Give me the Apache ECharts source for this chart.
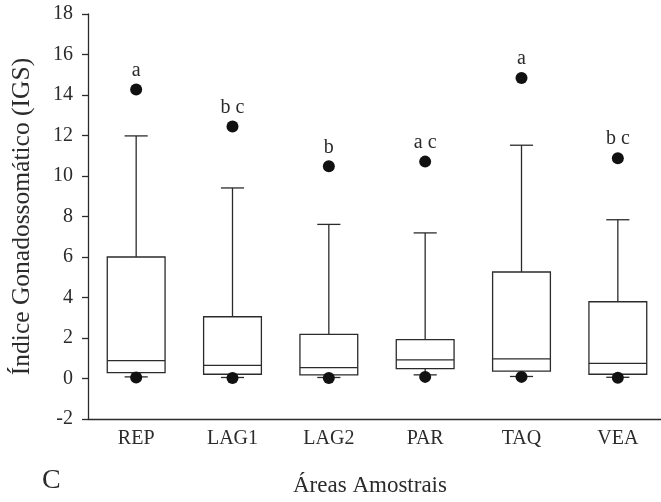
<!DOCTYPE html>
<html>
<head>
<meta charset="utf-8">
<script src="https://cdn.jsdelivr.net/npm/echarts@6/dist/echarts.min.js"></script>
<style>
  html, body { margin: 0; padding: 0; background: #fff; }
  #chart { width: 661px; height: 502px; }
</style>
</head>
<body>
<div id="chart"></div>
<script>
// Sampling areas
var categories = ['REP', 'LAG1', 'LAG2', 'PAR', 'TAQ', 'VEA'];

// Box statistics per area (lower whisker, Q1, median, Q3, upper whisker)
var lowerWhisker = [0.08, 0.05, 0.05, 0.18, 0.10, 0.06];
var q1           = [0.29, 0.21, 0.18, 0.49, 0.36, 0.21];
var median       = [0.88, 0.65, 0.54, 0.92, 0.97, 0.75];
var q3           = [6.00, 3.05, 2.18, 1.92, 5.26, 3.79];
var upperWhisker = [11.98, 9.41, 7.61, 7.19, 11.52, 7.84];

// Extreme points drawn as dots
var highPoint = [14.27, 12.44, 10.48, 10.71, 14.84, 10.88];
var lowPoint  = [0.05, 0.02, 0.02, 0.08, 0.08, 0.04];

// Group letters from the multiple comparison test
var groupLetters = ['a', 'b c', 'b', 'a c', 'a', 'b c'];

// Y axis ticks
var yMin = -2, yMax = 18, yStep = 2;

var serif = '"Liberation Serif", "Times New Roman", "DejaVu Serif", serif';
var ink = '#2b2b2b';

var boxData = categories.map(function (c, i) {
  return [i, lowerWhisker[i], q1[i], median[i], q3[i], upperWhisker[i]];
});
var highData = categories.map(function (c, i) {
  return { value: [i, highPoint[i]], label: { formatter: groupLetters[i] } };
});
var lowData = categories.map(function (c, i) { return [i, lowPoint[i]]; });

function renderBox(params, api) {
  var x = api.value(0);
  var band = api.size([1, 0])[0];
  var boxHalf = band * 0.30;
  var capHalf = band * 0.12;
  var pLo = api.coord([x, api.value(1)]);
  var pQ1 = api.coord([x, api.value(2)]);
  var pMed = api.coord([x, api.value(3)]);
  var pQ3 = api.coord([x, api.value(4)]);
  var pHi = api.coord([x, api.value(5)]);
  var cx = pQ1[0];
  var st = { stroke: ink, lineWidth: 1.3, fill: null };
  return {
    type: 'group',
    children: [
      { type: 'line', shape: { x1: cx, y1: pQ3[1], x2: cx, y2: pHi[1] }, style: st },
      { type: 'line', shape: { x1: cx - capHalf, y1: pHi[1], x2: cx + capHalf, y2: pHi[1] }, style: st },
      { type: 'line', shape: { x1: cx, y1: pQ1[1], x2: cx, y2: pLo[1] }, style: st },
      { type: 'line', shape: { x1: cx - capHalf, y1: pLo[1], x2: cx + capHalf, y2: pLo[1] }, style: st },
      { type: 'rect', shape: { x: cx - boxHalf, y: pQ3[1], width: boxHalf * 2, height: pQ1[1] - pQ3[1] },
        style: { stroke: ink, lineWidth: 1.3, fill: '#fff' } },
      { type: 'line', shape: { x1: cx - boxHalf, y1: pMed[1], x2: cx + boxHalf, y2: pMed[1] }, style: st }
    ]
  };
}

var chart = echarts.init(document.getElementById('chart'), null, { renderer: 'canvas' });
chart.setOption({
  animation: false,
  backgroundColor: '#fff',
  grid: { left: 88, top: 14, width: 578, height: 405, containLabel: false, outerBoundsMode: 'none' },
  xAxis: {
    type: 'category',
    data: categories,
    boundaryGap: true,
    axisLine: { onZero: false, lineStyle: { color: ink, width: 1.3 } },
    axisTick: { alignWithLabel: true, length: 6, lineStyle: { color: ink, width: 1.3 } },
    axisLabel: { color: ink, fontFamily: serif, fontSize: 20, margin: 10 },
    splitLine: { show: false }
  },
  yAxis: {
    type: 'value',
    min: yMin, max: yMax, interval: yStep,
    name: 'Índice Gonadossomático (IGS)',
    nameLocation: 'middle',
    nameRotate: 90,
    nameGap: 53,
    nameTextStyle: { color: ink, fontFamily: serif, fontSize: 25.5 },
    axisLine: { show: true, lineStyle: { color: ink, width: 1.3 } },
    axisTick: { show: true, length: 6, lineStyle: { color: ink, width: 1.3 } },
    axisLabel: { color: ink, fontFamily: serif, fontSize: 20, margin: 15 },
    splitLine: { show: false }
  },
  graphic: [
    { type: 'text', left: 293, top: 474,
      style: { text: 'Áreas Amostrais', font: '23px ' + serif, fill: ink } },
    { type: 'text', left: 42, top: 467,
      style: { text: 'C', font: '28px ' + serif, fill: ink } }
  ],
  series: [
    {
      type: 'custom',
      renderItem: renderBox,
      data: boxData,
      encode: { x: 0, y: [1, 2, 3, 4, 5] },
      z: 2
    },
    {
      type: 'scatter',
      data: highData,
      symbol: 'circle',
      symbolSize: 12,
      itemStyle: { color: '#111', opacity: 1 },
      label: { show: true, position: 'top', distance: 3, color: ink, fontFamily: serif, fontSize: 20 },
      z: 3
    },
    {
      type: 'scatter',
      data: lowData,
      symbol: 'circle',
      symbolSize: 12,
      itemStyle: { color: '#111', opacity: 1 },
      z: 3
    }
  ]
});
</script>
</body>
</html>
